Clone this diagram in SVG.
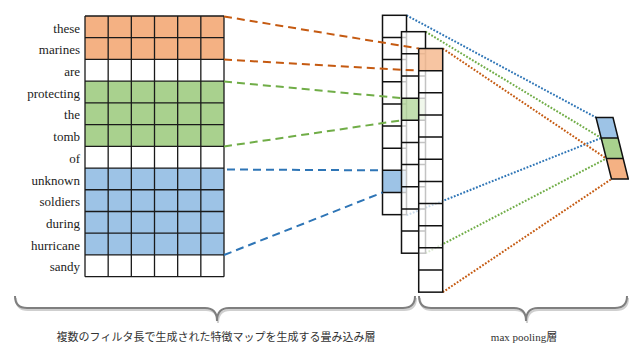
<svg xmlns="http://www.w3.org/2000/svg" width="629" height="345" viewBox="0 0 629 345">
<style>
.lbl{font-family:"Liberation Serif","Noto Sans CJK JP",serif;font-size:13px;fill:#222;text-anchor:end}
.cap{font-family:"Liberation Serif","Noto Sans CJK JP",serif;font-size:11px;fill:#333;text-anchor:middle}
.gl{stroke:#1a1a1a;stroke-width:1.3;fill:none}
.colbg{fill:#fff;fill-opacity:0.75}
.cl{stroke:#111;stroke-width:1.5;fill:none}
.dash{fill:none;stroke-width:2;stroke-dasharray:8 5}
.dot{fill:none;stroke-width:2;stroke-dasharray:1.8 1.6}
.brace{fill:none;stroke:#7f7f7f;stroke-width:2}
.braceS{fill:none;stroke:#cfcfcf;stroke-width:2}
.or{fill:#f4b183}.gr{fill:#a9d18e}.bl{fill:#9dc3e6}
.so{stroke:#c55a11}.sg{stroke:#70ad47}.sb{stroke:#2e75b6}
</style>

<g id="input-matrix">
  <rect x="85" y="16" width="139" height="43.44" class="or"/>
  <rect x="85" y="81.16" width="139" height="65.16" class="gr"/>
  <rect x="85" y="168.04" width="139" height="86.88" class="bl"/>
  <path class="gl" d="M85,16H224M85,37.72H224M85,59.44H224M85,81.16H224M85,102.88H224M85,124.6H224M85,146.32H224M85,168.04H224M85,189.76H224M85,211.48H224M85,233.2H224M85,254.92H224M85,276.64H224"/>
  <path class="gl" d="M85,16V276.64M108.17,16V276.64M131.33,16V276.64M154.5,16V276.64M177.67,16V276.64M200.83,16V276.64M224,16V276.64"/>
  <text class="lbl" x="80" y="32.5">these</text>
  <text class="lbl" x="80" y="54.2">marines</text>
  <text class="lbl" x="80" y="75.9">are</text>
  <text class="lbl" x="80" y="97.7">protecting</text>
  <text class="lbl" x="80" y="119.4">the</text>
  <text class="lbl" x="80" y="141.1">tomb</text>
  <text class="lbl" x="80" y="162.8">of</text>
  <text class="lbl" x="80" y="184.5">unknown</text>
  <text class="lbl" x="80" y="206.3">soldiers</text>
  <text class="lbl" x="80" y="228">during</text>
  <text class="lbl" x="80" y="249.7">hurricane</text>
  <text class="lbl" x="80" y="271.4">sandy</text>
</g>

<g id="connectors-pooling">
  <path class="dot sb" d="M406.5,15.3L596,117.5"/>
  <path class="dot sb" d="M406.5,215.3L601.2,138"/>
  <path class="dot sg" d="M425.5,31.7L601.2,138"/>
  <path class="dot sg" d="M425.5,253.2L606.3,158.5"/>
  <path class="dot so" d="M442.7,48.5L606.3,158.5"/>
  <path class="dot so" d="M442.7,292.2L611.5,179"/>
</g>

<g id="feature-map-1">
  <rect class="colbg" x="382.5" y="15.3" width="24" height="199.35"/>
  <rect class="bl" x="382.5" y="170.35" width="24" height="22.15"/>
  <path class="cl" d="M382.5,37.45h24M382.5,59.6h24M382.5,81.75h24M382.5,103.9h24M382.5,126.05h24M382.5,148.2h24M382.5,170.35h24M382.5,192.5h24"/>
  <rect class="cl" x="382.5" y="15.3" width="24" height="199.35"/>
</g>

<g id="feature-map-2">
  <rect class="colbg" x="401.5" y="31.7" width="24" height="221.5"/>
  <rect class="gr" fill-opacity="0.7" x="401.5" y="98.15" width="24" height="22.15"/>
  <path class="cl" d="M401.5,53.85h24M401.5,76h24M401.5,98.15h24M401.5,120.3h24M401.5,142.45h24M401.5,164.6h24M401.5,186.75h24M401.5,208.9h24M401.5,231.05h24"/>
  <rect class="cl" x="401.5" y="31.7" width="24" height="221.5"/>
</g>

<g id="feature-map-3">
  <rect class="colbg" x="418.7" y="48.5" width="24" height="243.65"/>
  <rect class="or" fill-opacity="0.75" x="418.7" y="48.5" width="24" height="22.15"/>
  <path class="cl" d="M418.7,70.65h24M418.7,92.8h24M418.7,114.95h24M418.7,137.1h24M418.7,159.25h24M418.7,181.4h24M418.7,203.55h24M418.7,225.7h24M418.7,247.85h24M418.7,270h24"/>
  <rect class="cl" x="418.7" y="48.5" width="24" height="243.65"/>
</g>

<g id="connectors-conv">
  <path class="dash so" d="M224,16.5L418.7,48.5"/>
  <path class="dash so" d="M224,59.6L418.7,70.65"/>
  <path class="dash sg" d="M224,81.5L401.5,98.15"/>
  <path class="dash sg" d="M224,146.5L401.5,120.3"/>
  <path class="dash sb" d="M227,169.5L382.5,170.35"/>
  <path class="dash sb" d="M224,255L382.5,192.5"/>
</g>

<g id="pooling-output">
  <polygon class="bl" points="596,117.5 613,117.5 618.2,138 601.2,138"/>
  <polygon class="gr" points="601.2,138 618.2,138 623.3,158.5 606.3,158.5"/>
  <polygon class="or" points="606.3,158.5 623.3,158.5 628.3,179 611.5,179"/>
  <path class="cl" d="M596,117.5L613,117.5L628.3,179L611.5,179ZM601.2,138H618.2M606.3,158.5H623.3"/>
</g>

<g id="brace-conv">
  <path class="braceS" transform="translate(1,2)" d="M15,296Q15,308 27,308L205,308Q217,308 217,321Q217,308 229,308L403,308Q415,308 415,296"/>
  <path class="brace" d="M15,296Q15,308 27,308L205,308Q217,308 217,321Q217,308 229,308L403,308Q415,308 415,296"/>
  <text class="cap" x="216" y="341">複数のフィルタ長で生成された特徴マップを生成する畳み込み層</text>
</g>

<g id="brace-pool">
  <path class="braceS" transform="translate(1,2)" d="M419,296Q419,308 431,308L514,308Q526,308 526,321Q526,308 538,308L615,308Q627,308 627,296"/>
  <path class="brace" d="M419,296Q419,308 431,308L514,308Q526,308 526,321Q526,308 538,308L615,308Q627,308 627,296"/>
  <text class="cap" x="524" y="341">max pooling層</text>
</g>
</svg>
